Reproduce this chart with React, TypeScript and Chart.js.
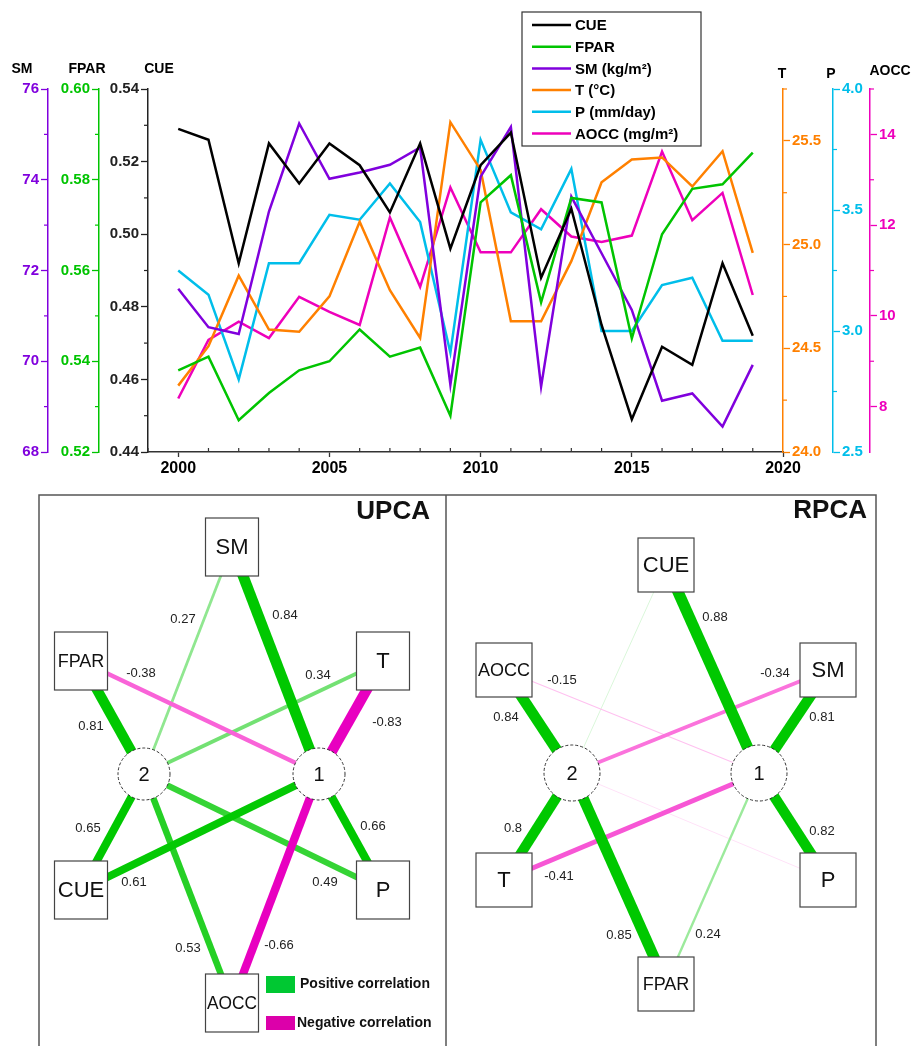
import React, { useEffect, useRef } from 'react';
import { Chart, registerables } from 'chart.js';
Chart.register(...registerables);

const FONT = '"Liberation Sans", Arial, Helvetica, sans-serif';

// ---------- time series data ----------
const years = [2000, 2001, 2002, 2003, 2004, 2005, 2006, 2007, 2008, 2009, 2010, 2011, 2012, 2013, 2014, 2015, 2016, 2017, 2018, 2019];
const cue = [0.529, 0.526, 0.492, 0.525, 0.514, 0.525, 0.519, 0.506, 0.525, 0.496, 0.519, 0.528, 0.488, 0.507, 0.475, 0.449, 0.469, 0.464, 0.492, 0.472];
const fpar = [0.538, 0.541, 0.527, 0.533, 0.538, 0.540, 0.547, 0.541, 0.543, 0.528, 0.575, 0.581, 0.553, 0.576, 0.575, 0.545, 0.568, 0.578, 0.579, 0.586];
const sm = [71.6, 70.75, 70.6, 73.3, 75.24, 74.02, 74.16, 74.33, 74.71, 69.48, 74.07, 75.16, 69.44, 73.63, 72.38, 71.13, 69.13, 69.29, 68.56, 69.92];
const temp = [24.32, 24.51, 24.85, 24.59, 24.58, 24.75, 25.11, 24.78, 24.55, 25.59, 25.36, 24.63, 24.63, 24.92, 25.3, 25.41, 25.42, 25.28, 25.45, 24.96];
const precip = [3.25, 3.15, 2.8, 3.28, 3.28, 3.48, 3.46, 3.61, 3.45, 2.91, 3.79, 3.49, 3.42, 3.67, 3.0, 3.0, 3.19, 3.22, 2.96, 2.96];
const aocc = [8.18, 9.47, 9.87, 9.51, 10.42, 10.09, 9.8, 12.17, 10.64, 12.83, 11.4, 11.4, 12.35, 11.75, 11.63, 11.77, 13.62, 12.11, 12.71, 10.46];

// ---------- tick values ----------
const xMajor = [2000, 2005, 2010, 2015, 2020];
const xMinor = [1999, 2001, 2002, 2003, 2004, 2006, 2007, 2008, 2009, 2011, 2012, 2013, 2014, 2016, 2017, 2018, 2019];
const cueMajor = [0.44, 0.46, 0.48, 0.5, 0.52, 0.54];
const cueMinor = [0.45, 0.47, 0.49, 0.51, 0.53];
const fparMajor = [0.52, 0.54, 0.56, 0.58, 0.6];
const fparMinor = [0.53, 0.55, 0.57, 0.59];
const smMajor = [68, 70, 72, 74, 76];
const smMinor = [69, 71, 73, 75];
const tMajor = [24, 24.5, 25, 25.5];
const tMinor = [24.25, 24.75, 25.25, 25.75];
const pMajor = [2.5, 3, 3.5, 4];
const pMinor = [2.75, 3.25, 3.75];
const aoccMajor = [8, 10, 12, 14];
const aoccMinor = [9, 11, 13, 15];

// ---------- PCA loadings ----------
const upcaVars = ['SM', 'FPAR', 'T', 'CUE', 'P', 'AOCC'];
const upcaF1 = [0.84, -0.38, -0.83, 0.61, 0.66, -0.66];
const upcaF2 = [0.27, 0.81, 0.34, 0.65, 0.49, 0.53];
const rpcaVars = ['CUE', 'AOCC', 'SM', 'T', 'P', 'FPAR'];
const rpcaF1 = [0.88, -0.15, 0.81, -0.41, 0.82, 0.24];
const rpcaF2 = [0.09, 0.84, -0.34, 0.8, -0.07, 0.85];

// ---------- colours ----------
const COL = {
  cue: '#000000',
  fpar: '#00C400',
  sm: '#8000DD',
  t: '#FF8000',
  p: '#00BEEA',
  aocc: '#EE00BB',
};

// ---------- diagram layout (page-pixel units) ----------
const upcaLayout = {
  box: [53, 58],
  r: 26,
  nodes: { SM: [232, 547], FPAR: [81, 661], T: [383, 661], CUE: [81, 890], P: [383, 890], AOCC: [232, 1003] } as Record<string, number[]>,
  factors: [[319, 774], [144, 774]],
  labels: [
    [[285, 615], [141, 673], [387, 722], [134, 882], [373, 826], [279, 945]],
    [[183, 619], [91, 726], [318, 675], [88, 828], [325, 882], [188, 948]],
  ] as (number[] | null)[][],
  title: ['UPCA', 430, 512],
};
const rpcaLayout = {
  box: [56, 54],
  r: 28,
  nodes: { CUE: [666, 565], AOCC: [504, 670], SM: [828, 670], T: [504, 880], P: [828, 880], FPAR: [666, 984] } as Record<string, number[]>,
  factors: [[759, 773], [572, 773]],
  labels: [
    [[715, 617], [562, 680], [822, 717], [559, 876], [822, 831], [708, 934]],
    [null, [506, 717], [775, 673], [513, 828], null, [619, 935]],
  ] as (number[] | null)[][],
  title: ['RPCA', 867, 511],
};

function edgeColor(w: number) {
  const a = Math.min(1, Math.abs(w) / 0.62);
  const base = w > 0 ? [0, 200, 0] : [232, 0, 192];
  const c = base.map((v) => Math.round(255 + (v - 255) * a));
  if (w < 0) c[0] = Math.min(255, c[0] + Math.round(20 * (1 - a)));
  return `rgb(${c[0]},${c[1]},${c[2]})`;
}

function buildEdges(vars: string[], f1: number[], f2: number[], L: any) {
  const edges: any[] = [];
  vars.forEach((v, i) => {
    [f1[i], f2[i]].forEach((w, k) => {
      edges.push({ from: L.nodes[v], to: L.factors[k], w, label: L.labels[k][i] });
    });
  });
  return edges;
}

function yAxis(pos: string, min: number, max: number, majors: number[], dec: number, color: string, width: number, weight: number) {
  return {
    type: 'linear',
    position: pos,
    min,
    max,
    weight,
    afterBuildTicks: (s: any) => {
      s.ticks = majors.map((v) => ({ value: v }));
    },
    afterFit: (s: any) => {
      s.width = width;
    },
    grid: { drawOnChartArea: false, drawTicks: true, tickLength: 7, tickColor: color, tickWidth: 1.3 },
    border: { display: true, color, width: 1.5 },
    ticks: {
      color,
      font: { family: FONT, size: 15, weight: 'bold' },
      padding: 2,
      autoSkip: false,
      maxRotation: 0,
      callback: (v: any) => Number(v).toFixed(dec),
    },
  };
}

const minorTicks: Record<string, { vals: number[]; color: string }> = {
  x: { vals: xMinor, color: '#333' },
  yCUE: { vals: cueMinor, color: '#222' },
  yFPAR: { vals: fparMinor, color: COL.fpar },
  ySM: { vals: smMinor, color: COL.sm },
  yT: { vals: tMinor, color: COL.t },
  yP: { vals: pMinor, color: COL.p },
  yAOCC: { vals: aoccMinor, color: COL.aocc },
};

const axisTitles = [
  { id: 'ySM', text: 'SM', dx: -26, y: 69 },
  { id: 'yFPAR', text: 'FPAR', dx: -12, y: 69 },
  { id: 'yCUE', text: 'CUE', dx: 11, y: 69 },
  { id: 'yT', text: 'T', dx: -1, y: 74 },
  { id: 'yP', text: 'P', dx: -2, y: 74 },
  { id: 'yAOCC', text: 'AOCC', dx: 20, y: 71 },
];

const topPlugin = {
  id: 'topDecor',
  afterDraw(chart: any) {
    const ctx = chart.ctx;
    ctx.save();
    // minor ticks
    Object.keys(minorTicks).forEach((id) => {
      const s = chart.scales[id];
      const m = minorTicks[id];
      ctx.strokeStyle = m.color;
      ctx.lineWidth = 1.2;
      m.vals.forEach((v) => {
        const p = s.getPixelForValue(v);
        ctx.beginPath();
        if (id === 'x') {
          ctx.moveTo(p, s.top);
          ctx.lineTo(p, s.top - 4);
        } else if (s.position === 'left') {
          ctx.moveTo(s.right, p);
          ctx.lineTo(s.right - 4, p);
        } else {
          ctx.moveTo(s.left, p);
          ctx.lineTo(s.left + 4, p);
        }
        ctx.stroke();
      });
    });
    // axis titles
    ctx.fillStyle = '#000';
    ctx.font = `bold 14px ${FONT}`;
    ctx.textAlign = 'center';
    ctx.textBaseline = 'middle';
    axisTitles.forEach((t) => {
      const s = chart.scales[t.id];
      const ax = s.position === 'left' ? s.right : s.left;
      ctx.fillText(t.text, ax + t.dx, t.y);
    });
    // legend
    const bx = 522, by = 12, bw = 179, bh = 134;
    ctx.fillStyle = '#fff';
    ctx.fillRect(bx, by, bw, bh);
    ctx.strokeStyle = '#333';
    ctx.lineWidth = 1.2;
    ctx.strokeRect(bx, by, bw, bh);
    ctx.font = `bold 15px ${FONT}`;
    ctx.textAlign = 'left';
    chart.data.datasets.forEach((d: any, i: number) => {
      const y = by + 13 + i * 21.7;
      ctx.strokeStyle = d.borderColor;
      ctx.lineWidth = 2.5;
      ctx.beginPath();
      ctx.moveTo(bx + 10, y);
      ctx.lineTo(bx + 49, y);
      ctx.stroke();
      ctx.fillStyle = '#000';
      ctx.fillText(d.label, bx + 53, y + 1);
    });
    ctx.restore();
  },
};

function series(label: string, vals: number[], color: string, axis: string) {
  return {
    label,
    data: vals.map((v, i) => ({ x: years[i], y: v })),
    borderColor: color,
    backgroundColor: color,
    borderWidth: 2.5,
    pointRadius: 0,
    tension: 0,
    yAxisID: axis,
  };
}

function topConfig(): any {
  return {
    type: 'line',
    data: {
      datasets: [
        series('CUE', cue, COL.cue, 'yCUE'),
        series('FPAR', fpar, COL.fpar, 'yFPAR'),
        series('SM (kg/m²)', sm, COL.sm, 'ySM'),
        series('T (°C)', temp, COL.t, 'yT'),
        series('P (mm/day)', precip, COL.p, 'yP'),
        series('AOCC (mg/m²)', aocc, COL.aocc, 'yAOCC'),
      ],
    },
    options: {
      responsive: false,
      animation: false,
      events: [],
      layout: { padding: { top: 89, left: 0, right: 0, bottom: 0 } },
      plugins: { legend: { display: false }, tooltip: { enabled: false } },
      scales: {
        x: {
          type: 'linear',
          position: 'bottom',
          min: 1999,
          max: 2020,
          afterBuildTicks: (s: any) => {
            s.ticks = xMajor.map((v) => ({ value: v }));
          },
          afterFit: (s: any) => {
            s.height = 33;
          },
          grid: { drawOnChartArea: false, drawTicks: true, tickLength: 5, tickColor: '#333', tickWidth: 1.3 },
          border: { display: true, color: '#333', width: 1.5 },
          ticks: {
            color: '#000',
            font: { family: FONT, size: 16, weight: 'bold' },
            padding: 2,
            maxRotation: 0,
            autoSkip: false,
            callback: (v: any) => String(v),
          },
        },
        yCUE: yAxis('left', 0.44, 0.54, cueMajor, 2, '#222', 49, 1),
        yFPAR: yAxis('left', 0.52, 0.6, fparMajor, 2, COL.fpar, 51, 2),
        ySM: yAxis('left', 68, 76, smMajor, 0, COL.sm, 48, 3),
        yT: yAxis('right', 24, 25.75, tMajor, 1, COL.t, 50, 1),
        yP: yAxis('right', 2.5, 4, pMajor, 1, COL.p, 37, 2),
        yAOCC: yAxis('right', 7, 15, aoccMajor, 0, COL.aocc, 44, 3),
      },
    },
    plugins: [topPlugin],
  };
}

// ---------- bottom path diagrams ----------
const panels = [
  { vars: upcaVars, f1: upcaF1, f2: upcaF2, L: upcaLayout },
  { vars: rpcaVars, f1: rpcaF1, f2: rpcaF2, L: rpcaLayout },
];

const frame = { top: 495, left: 39, mid: 446, right: 876, bottom: 1050 };

const bottomPlugin = {
  id: 'pathDecor',
  afterDatasetsDraw(chart: any) {
    const ctx = chart.ctx;
    const xs = chart.scales.x;
    const ys = chart.scales.y;
    const X = (v: number) => xs.getPixelForValue(v);
    const Y = (v: number) => ys.getPixelForValue(v);
    ctx.save();
    panels.forEach((pn) => {
      const L: any = pn.L;
      // variable boxes
      pn.vars.forEach((v) => {
        const [cx, cy] = L.nodes[v];
        const [w, h] = L.box;
        const x0 = X(cx - w / 2), y0 = Y(cy - h / 2);
        const pw = X(cx + w / 2) - x0, ph = Y(cy + h / 2) - y0;
        ctx.fillStyle = '#fff';
        ctx.fillRect(x0, y0, pw, ph);
        ctx.strokeStyle = '#444';
        ctx.lineWidth = 1.2;
        ctx.setLineDash([]);
        ctx.strokeRect(x0, y0, pw, ph);
        const size = v.length >= 4 ? 18 : 22;
        ctx.font = `${size}px ${FONT}`;
        ctx.fillStyle = '#111';
        ctx.textAlign = 'center';
        ctx.textBaseline = 'middle';
        ctx.fillText(v, X(cx), Y(cy) + 1, pw - 3);
      });
      // factor circles
      L.factors.forEach((f: number[], k: number) => {
        const r = X(f[0] + L.r) - X(f[0]);
        ctx.beginPath();
        ctx.arc(X(f[0]), Y(f[1]), r, 0, Math.PI * 2);
        ctx.fillStyle = '#fff';
        ctx.fill();
        ctx.setLineDash([3, 2]);
        ctx.strokeStyle = '#333';
        ctx.lineWidth = 1;
        ctx.stroke();
        ctx.setLineDash([]);
        ctx.fillStyle = '#111';
        ctx.font = `20px ${FONT}`;
        ctx.textAlign = 'center';
        ctx.textBaseline = 'middle';
        ctx.fillText(String(k + 1), X(f[0]), Y(f[1]) + 1);
      });
      // edge labels
      ctx.font = `13px ${FONT}`;
      ctx.fillStyle = '#222';
      pn.vars.forEach((v, i) => {
        [pn.f1[i], pn.f2[i]].forEach((w, k) => {
          const lp = L.labels[k][i];
          if (!lp) return;
          ctx.fillText(String(w), X(lp[0]), Y(lp[1]));
        });
      });
      // title
      ctx.font = `bold 26px ${FONT}`;
      ctx.textAlign = 'right';
      ctx.fillStyle = '#111';
      ctx.fillText(L.title[0], X(L.title[1]), Y(L.title[2]));
    });
    // frame
    ctx.strokeStyle = '#555';
    ctx.lineWidth = 1.5;
    ctx.beginPath();
    ctx.moveTo(X(frame.left), Y(frame.bottom));
    ctx.lineTo(X(frame.left), Y(frame.top));
    ctx.lineTo(X(frame.right), Y(frame.top));
    ctx.lineTo(X(frame.right), Y(frame.bottom));
    ctx.moveTo(X(frame.mid), Y(frame.top));
    ctx.lineTo(X(frame.mid), Y(frame.bottom));
    ctx.stroke();
    // correlation legend
    ctx.fillStyle = 'rgb(0,200,50)';
    ctx.fillRect(X(266), Y(976), X(295) - X(266), Y(993) - Y(976));
    ctx.fillStyle = 'rgb(220,0,170)';
    ctx.fillRect(X(266), Y(1016), X(295) - X(266), Y(1030) - Y(1016));
    ctx.fillStyle = '#111';
    ctx.font = `bold 14px ${FONT}`;
    ctx.textAlign = 'left';
    ctx.textBaseline = 'middle';
    ctx.fillText('Positive correlation', X(300), Y(984));
    ctx.fillText('Negative correlation', X(297), Y(1023));
    ctx.restore();
  },
};

function bottomConfig(): any {
  const edges: any[] = [];
  panels.forEach((pn) => edges.push(...buildEdges(pn.vars, pn.f1, pn.f2, pn.L)));
  edges.sort((a, b) => Math.abs(b.w) - Math.abs(a.w));
  const datasets = edges.map((e) => ({
    data: [
      { x: e.from[0], y: e.from[1] },
      { x: e.to[0], y: e.to[1] },
    ],
    showLine: true,
    borderColor: edgeColor(e.w),
    borderWidth: Math.max(1, 14 * Math.abs(e.w) - 1),
    borderCapStyle: 'butt',
    pointRadius: 0,
  }));
  return {
    type: 'scatter',
    data: { datasets },
    options: {
      responsive: false,
      animation: false,
      events: [],
      layout: { padding: 0 },
      plugins: { legend: { display: false }, tooltip: { enabled: false } },
      scales: {
        x: { type: 'linear', min: 0, max: 914, display: false },
        y: { type: 'linear', min: 485, max: 1046, reverse: true, display: false },
      },
    },
    plugins: [bottomPlugin],
  };
}

export default function App() {
  const topRef = useRef<HTMLCanvasElement>(null);
  const botRef = useRef<HTMLCanvasElement>(null);
  useEffect(() => {
    const c1 = new Chart(topRef.current as HTMLCanvasElement, topConfig());
    const c2 = new Chart(botRef.current as HTMLCanvasElement, bottomConfig());
    return () => {
      c1.destroy();
      c2.destroy();
    };
  }, []);
  return (
    <div style={{ position: 'absolute', left: 0, top: 0, width: 914, height: 1046, background: '#fff', overflow: 'hidden' }}>
      <canvas ref={topRef} width={914} height={485} style={{ position: 'absolute', left: 0, top: 0, width: 914, height: 485 }} />
      <canvas ref={botRef} width={914} height={561} style={{ position: 'absolute', left: 0, top: 485, width: 914, height: 561 }} />
    </div>
  );
}
